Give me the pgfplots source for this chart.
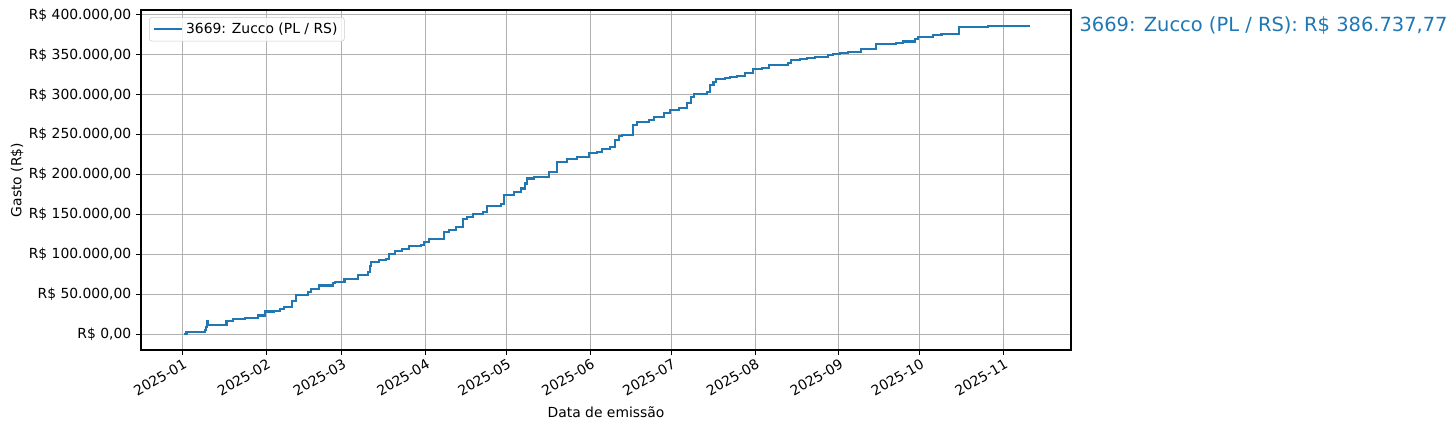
\documentclass[border=0pt]{standalone}
\usepackage{fontspec}
\setmainfont{DejaVu Sans}
\usepackage{pgfplots}
\pgfplotsset{compat=1.18}
\definecolor{mplblue}{HTML}{1F77B4}
\definecolor{gridgray}{HTML}{B0B0B0}
\definecolor{legframe}{HTML}{CCCCCC}

% gasto acumulado: dia (desde 2025-01-01), valor em R$
\pgfplotstableread{
day value
0.5 900
1.5 3000
8.3 6000
8.8 10000
9.2 16500
9.6 12500
16.3 17500
18.7 19600
23.0 20900
28.0 23800
30.7 28800
33.7 30000
36.0 32000
37.6 34300
40.5 41800
42.1 49700
46.4 53000
47.7 57300
50.7 61400
55.7 64300
56.6 65500
60.0 69000
65.1 74000
68.6 78000
69.3 86000
69.8 90700
72.9 92800
75.4 95000
76.6 101000
78.7 104000
81.2 106600
84.0 110300
88.3 112000
89.5 115700
91.4 120000
96.9 128300
98.8 130400
101.2 134500
103.7 145000
105.5 147000
107.4 150500
111.1 153400
112.9 160500
117.8 163900
119.1 174300
122.8 178400
125.3 182700
126.8 189000
127.5 195200
130.2 197200
135.7 203500
138.8 216000
142.5 219400
146.2 222300
150.5 226600
153.6 228600
155.4 231600
158.2 234900
160.0 243300
161.5 248300
162.8 249500
166.9 262000
168.3 266200
172.6 268300
174.5 271700
178.2 276700
180.6 280900
183.7 283800
186.8 289300
188.3 296800
189.5 300600
194.2 303800
195.2 312200
196.6 316400
197.6 320000
200.9 321400
202.8 322600
205.3 323900
208.3 326900
211.2 332300
214.5 334000
217.3 337300
224.3 340200
225.2 343600
228.6 344800
231.1 346400
234.2 347700
239.1 349800
240.9 351500
243.4 352700
246.5 354000
251.2 357400
256.7 363600
264.1 365300
266.6 366600
271.2 369900
272.4 372800
277.9 374900
281.0 376200
287.5 385000
298.2 386000
304.0 386400
313.3 386737.77
}\gasto

\begin{document}
\begin{tikzpicture}
\begin{axis}[
    scale only axis,
    width=669.6pt,
    height=244.8pt,
    xmin=-15.35, xmax=328.95,
    ymin=-19340, ymax=406080,
    clip=false,
    axis line style={line width=0.8pt},
    tick align=outside,
    tick pos=left,
    major tick length=3.5pt,
    every tick/.style={black, line width=0.8pt},
    grid=major,
    major grid style={gridgray, line width=0.8pt},
    xtick={0,31,59,90,120,151,181,212,243,273,304},
    xticklabels={2025-01,2025-02,2025-03,2025-04,2025-05,2025-06,2025-07,2025-08,2025-09,2025-10,2025-11},
    xticklabel style={rotate=30, anchor=north east, font=\fontsize{10}{12}\selectfont, inner sep=1pt, yshift=-1pt},
    ytick={0,50000,100000,150000,200000,250000,300000,350000,400000},
    yticklabels={{R\$ 0,00},{R\$ 50.000,00},{R\$ 100.000,00},{R\$ 150.000,00},{R\$ 200.000,00},{R\$ 250.000,00},{R\$ 300.000,00},{R\$ 350.000,00},{R\$ 400.000,00}},
    yticklabel style={font=\fontsize{10}{12}\selectfont},
    scaled y ticks=false,
    xlabel={Data de emissão},
    ylabel={Gasto (R\$)},
    label style={font=\fontsize{10}{12}\selectfont},
    xlabel style={at={(0.5,0)}, yshift=-37.5pt},
    ylabel style={yshift=-3pt},
    legend cell align=left,
    legend style={at={(0.0086,0.979)}, anchor=north west,
        draw=legframe, rounded corners=2pt, fill=white, fill opacity=0.8, text opacity=1,
        font=\fontsize{10}{12}\selectfont, inner xsep=3pt, inner ysep=2pt},
    legend image code/.code={\draw[#1, line width=1.5pt] (0pt,0pt) -- (20pt,0pt);},
]
\addplot[const plot, mplblue, line width=1.5pt] table[x=day, y=value] {\gasto};
\addlegendentry{3669: Zucco (PL / RS)}
\node[anchor=west, text=mplblue, font=\fontsize{14}{16}\selectfont, inner sep=0pt]
    at (axis cs:328.95,386737.77) [xshift=6pt] {3669: Zucco (PL / RS): R\$ 386.737,77};
\end{axis}
\pgfresetboundingbox
\useasboundingbox (-101.52pt,-57.6pt) rectangle (946.08pt,252pt);
\end{tikzpicture}
\end{document}
